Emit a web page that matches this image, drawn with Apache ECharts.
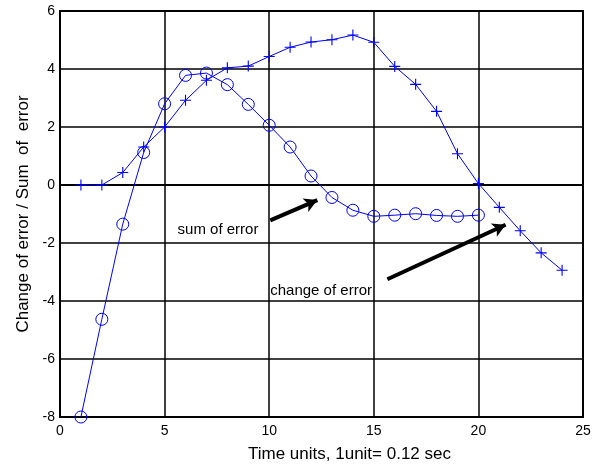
<!DOCTYPE html>
<html>
<head>
<meta charset="utf-8">
<script src="https://cdn.jsdelivr.net/npm/echarts@6/dist/echarts.min.js"></script>
<style>
  html, body { margin: 0; padding: 0; background: #fff; }
  #chart { width: 602px; height: 468px; }
</style>
</head>
<body>
<div id="chart"></div>
<script>
// time steps
var changeX = [1,2,3,4,5,6,7,8,9,10,11,12,13,14,15,16,17,18,19,20,21,22,23,24]
var changeOfError = [0, 0, 0.43, 1.31, 2.0, 2.92, 3.61, 4.04, 4.1, 4.43, 4.75, 4.93,
  5.01, 5.17, 4.92, 4.09, 3.47, 2.54, 1.08, 0.05, -0.77, -1.58, -2.34, -2.94]
var sumX = [1,2,3,4,5,6,7,8,9,10,11,12,13,14,15,16,17,18,19,20]
var sumOfError = [-8.0, -4.63, -1.35, 1.12, 2.8, 3.78, 3.86, 3.46, 2.78, 2.06, 1.31, 0.31,
  -0.43, -0.87, -1.08, -1.04, -0.99, -1.05, -1.08, -1.04]

var xTicks = [0, 5, 10, 15, 20, 25]
var yTicks = [-8, -6, -4, -2, 0, 2, 4, 6]

// annotations (data coords)
var notes = [
  { text: 'sum of error', at: [5.62, -1.55], from: [10.05, -1.22], to: [12.3, -0.52] },
  { text: 'change of error', at: [10.05, -3.65], from: [15.65, -3.25], to: [21.3, -1.37] }
]

var chart = echarts.init(document.getElementById('chart'))
var FONT = 'Liberation Sans, Arial, sans-serif'
var BLUE = '#0000ff'
var plusSym = 'path://M4.5,0H5.5V10H4.5Z M0,4.5H10V5.5H0Z'

function pairs(xs, ys) {
  return xs.map(function (x, i) { return [x, ys[i]] })
}

var gridLine = { show: true, lineStyle: { color: '#000', width: 1.5 } }

chart.setOption({
  animation: false,
  backgroundColor: '#fff',
  grid: {
    left: 60, right: 19, top: 11, bottom: 51,
    show: true, borderColor: '#000', borderWidth: 2, backgroundColor: 'transparent'
  },
  xAxis: {
    type: 'value',
    min: xTicks[0], max: xTicks[xTicks.length - 1], interval: 5,
    name: 'Time units, 1unit= 0.12 sec',
    nameLocation: 'middle', nameGap: 29,
    nameTextStyle: { color: '#000', fontSize: 17, fontFamily: FONT, padding: [0, 0, 0, 56] },
    axisLine: { show: true, lineStyle: { color: '#000', width: 2 } },
    axisTick: { show: false },
    axisLabel: { color: '#000', fontSize: 14, fontFamily: FONT, margin: 7 },
    splitLine: gridLine
  },
  yAxis: {
    type: 'value',
    min: yTicks[0], max: yTicks[yTicks.length - 1], interval: 2,
    name: 'Change of error / Sum  of  error',
    nameLocation: 'middle', nameGap: 26,
    nameTextStyle: { color: '#000', fontSize: 17, fontFamily: FONT },
    axisLine: { show: true, lineStyle: { color: '#000', width: 2 } },
    axisTick: { show: false },
    axisLabel: { color: '#000', fontSize: 14, fontFamily: FONT, margin: 5 },
    splitLine: gridLine
  },
  series: [
    {
      name: 'change of error',
      type: 'line',
      data: pairs(changeX, changeOfError),
      symbol: plusSym,
      symbolSize: 11,
      lineStyle: { color: BLUE, width: 1 },
      itemStyle: { color: BLUE }
    },
    {
      name: 'sum of error',
      type: 'line',
      data: pairs(sumX, sumOfError),
      symbol: 'circle',
      symbolSize: 12,
      lineStyle: { color: BLUE, width: 1 },
      itemStyle: { color: 'rgba(0,0,0,0)', borderColor: BLUE, borderWidth: 1 }
    },
    {
      name: 'arrows',
      type: 'line',
      data: [],
      markLine: {
        silent: true,
        symbol: ['none', 'arrow'],
        symbolSize: [11, 13],
        label: { show: false },
        lineStyle: { color: '#000', width: 4, type: 'solid' },
        data: notes.map(function (n) {
          return [{ coord: n.from }, { coord: n.to }]
        })
      }
    }
  ]
})

chart.setOption({
  graphic: notes.map(function (n) {
    var p = chart.convertToPixel({ gridIndex: 0 }, n.at)
    return {
      type: 'text',
      x: p[0], y: p[1],
      style: { text: n.text, fill: '#000', font: '15px ' + FONT, textVerticalAlign: 'middle' }
    }
  })
})
</script>
</body>
</html>
